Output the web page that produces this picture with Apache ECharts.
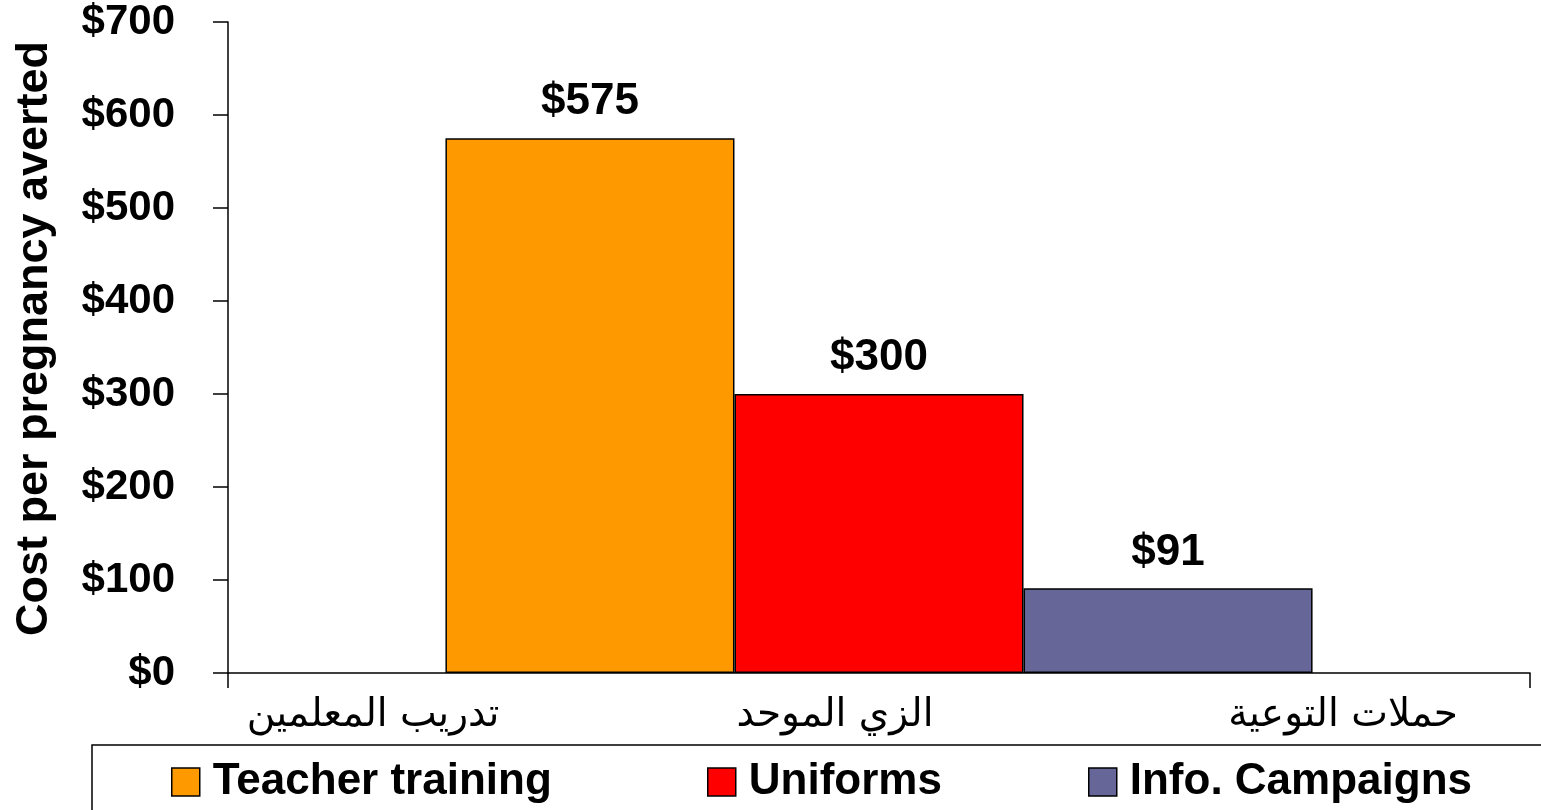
<!DOCTYPE html>
<html>
<head>
<meta charset="utf-8">
<title>Cost per pregnancy averted</title>
<style>
  html, body { margin: 0; padding: 0; background: #fff; }
  #main { width: 1541px; height: 810px; }
</style>
<script src="https://cdn.jsdelivr.net/npm/echarts@6/dist/echarts.min.js"></script>
</head>
<body>
<div id="main"></div>
<script>
// data
var seriesNames = ['Teacher training', 'Uniforms', 'Info. Campaigns'];
var seriesValues = [575, 300, 91];
var seriesColors = ['#FF9900', '#FF0000', '#666699'];
var arabicLabels = ['تدريب المعلمين', 'الزي الموحد', 'حملات التوعية'];
var arabicX = [373, 835, 1343];
var legendLeft = [171, 707, 1088];
var yTicks = { min: 0, max: 700, interval: 100 };

var font = 'Liberation Sans, Arial, Helvetica, sans-serif';

var myChart = echarts.init(document.getElementById('main'));

var series = seriesNames.map(function (name, i) {
  return {
    name: name,
    type: 'bar',
    data: [seriesValues[i]],
    barGap: '0%',
    barCategoryGap: '33.4%',
    itemStyle: {
      color: seriesColors[i],
      borderColor: '#000',
      borderWidth: 1.5
    },
    label: {
      show: true,
      position: 'top',
      distance: 14,
      formatter: function (p) { return '$' + p.value; },
      color: '#000',
      fontFamily: font,
      fontWeight: 'bold',
      fontSize: 44
    }
  };
});

// one legend per item so each sits where it does in the source
var legends = seriesNames.map(function (name, i) {
  return {
    left: legendLeft[i],
    top: 760,
    padding: 0,
    itemWidth: 28,
    itemHeight: 28,
    icon: 'rect',
    itemStyle: { borderColor: '#000', borderWidth: 1.5 },
    textStyle: {
      color: '#000',
      fontFamily: font,
      fontWeight: 'bold',
      fontSize: 44,
      lineHeight: 44,
      padding: [0, 0, 0, 8]
    },
    data: [name]
  };
});

var graphics = arabicLabels.map(function (t, i) {
  return {
    type: 'text',
    x: arabicX[i],
    y: 716,
    style: {
      text: t,
      fill: '#000',
      font: '39px "DejaVu Sans", sans-serif',
      align: 'center',
      verticalAlign: 'middle'
    }
  };
});
// legend frame (runs off the right and bottom edge as in the source)
graphics.push({
  type: 'rect',
  shape: { x: 92, y: 745, width: 1500, height: 120 },
  style: { fill: 'none', stroke: '#000', lineWidth: 1.5 },
  z: -1
});

myChart.setOption({
  animation: false,
  backgroundColor: '#fff',
  grid: { left: 228, right: 11, top: 22, bottom: 137, outerBoundsMode: 'none', containLabel: false },
  xAxis: {
    type: 'category',
    data: [''],
    axisLine: { lineStyle: { color: '#000', width: 1.5 } },
    axisTick: { show: true, length: 15, lineStyle: { color: '#000', width: 1.5 } },
    axisLabel: { show: false }
  },
  yAxis: {
    type: 'value',
    min: yTicks.min,
    max: yTicks.max,
    interval: yTicks.interval,
    name: 'Cost per pregnancy averted',
    nameLocation: 'middle',
    nameGap: 171,
    nameTextStyle: {
      color: '#000',
      fontFamily: font,
      fontWeight: 'bold',
      fontSize: 45,
      padding: [0, 0, 0, 18]
    },
    axisLine: { show: true, lineStyle: { color: '#000', width: 1.5 } },
    axisTick: { show: true, length: 15, lineStyle: { color: '#000', width: 1.5 } },
    splitLine: { show: false },
    axisLabel: {
      margin: 53,
      color: '#000',
      fontFamily: font,
      fontWeight: 'bold',
      fontSize: 42,
      formatter: function (v) { return '$' + v; }
    }
  },
  legend: legends,
  graphic: graphics,
  series: series
});

window.addEventListener('resize', function () {
  myChart.resize();
});
</script>
</body>
</html>
